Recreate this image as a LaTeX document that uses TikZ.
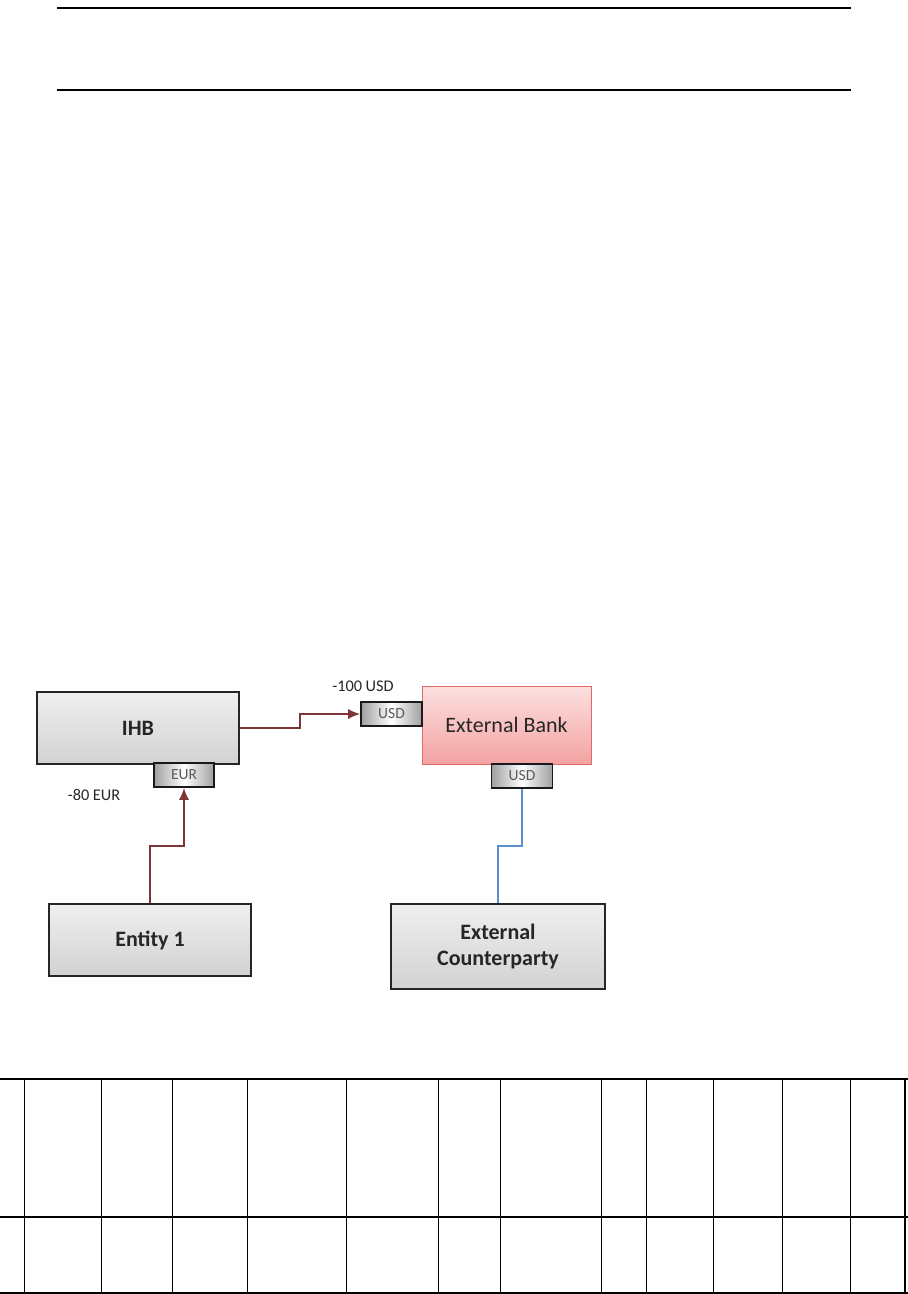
\documentclass[tikz,border=0pt]{standalone}
\usepackage{fontspec}
\setmainfont{Carlito}
\usetikzlibrary{arrows.meta}
\definecolor{boxtop}{HTML}{EFEFEF}
\definecolor{boxbot}{HTML}{D2D2D2}
\definecolor{banktop}{HTML}{FDE0E0}
\definecolor{bankbot}{HTML}{F3A2A2}
\definecolor{bankline}{HTML}{E06A6A}
\definecolor{flowred}{HTML}{7F3535}
\definecolor{flowblue}{HTML}{5B8ED0}
\definecolor{txt}{HTML}{262626}
\definecolor{tabtxt}{HTML}{5A5A5A}
\begin{document}
\begin{tikzpicture}[x=1pt,y=-1pt,
  bigbox/.style={draw=black!85,line width=1.6pt,top color=boxtop,bottom color=boxbot,
    text=txt,font=\fontsize{22}{26}\selectfont\bfseries,align=center,inner sep=0pt},
  bankbox/.style={draw=bankline,line width=1pt,top color=banktop,bottom color=bankbot,
    text=txt,font=\fontsize{22}{26}\selectfont,inner sep=0pt},
  tabbox/.style={draw=black!90,line width=1.6pt,left color=gray!75,right color=gray!75,middle color=white,
    text=tabtxt,font=\fontsize{15.5}{18}\selectfont,minimum width=61pt,minimum height=24pt,inner sep=0pt},
  amount/.style={text=txt,font=\fontsize{16.3}{19}\selectfont,inner sep=0pt},
  arr/.style={draw=flowred,line width=1.7pt,-{Latex[length=12pt,width=10pt]}},
  bline/.style={draw=flowblue,line width=1.7pt},
  rule/.style={line width=1.2pt},
  grid/.style={line width=1.5pt}]
\useasboundingbox (0,0) rectangle (908,1294);
% top rules
\draw[rule] (57,8) -- (851,8);
\draw[rule] (57,90) -- (851,90);
% boxes
\node[bigbox,minimum width=202pt,minimum height=72pt] (ihb) at (138,728) {IHB};
\node[bankbox,minimum width=169pt,minimum height=78pt] (bank) at (506.5,725) {External Bank};
\node[bigbox,minimum width=202pt,minimum height=72pt] (ent) at (150,940) {Entity 1};
\node[bigbox,minimum width=214pt,minimum height=85pt] (ecp) at (498,946.5) {External\\Counterparty};
% tabs
\node[tabbox,minimum width=60pt] (eur) at (184,775) {EUR};
\node[tabbox] (usdl) at (391.5,714) {USD};
\node[tabbox] (usdb) at (522,776) {USD};
% amounts
\node[amount] (a1) at (363,686) {-100 USD};
\node[amount] (a2) at (94,795) {-80 EUR};
% connectors
\coordinate (k1) at (300,728);
\coordinate (k2) at (160,846);
\coordinate (k3) at (510,846);
\draw[arr] (ihb.east) -- (k1) |- (usdl.west);
\draw[arr] (ent.north) |- (k2) -| (eur.south);
\draw[bline] (usdb.south) |- (k3) -| (ecp.north);
% table
\draw[grid] (0,1079) -- (908,1079);
\draw[grid] (0,1217) -- (908,1217);
\draw[grid] (0,1293) -- (908,1293);
\foreach \xx in {24.5,101.3,172.3,247.3,346.3,438.3,500.3,601.7,646.3,713.3,782.3,850.3,905}
  \draw[grid] (\xx,1079) -- (\xx,1294);
\end{tikzpicture}
\end{document}
